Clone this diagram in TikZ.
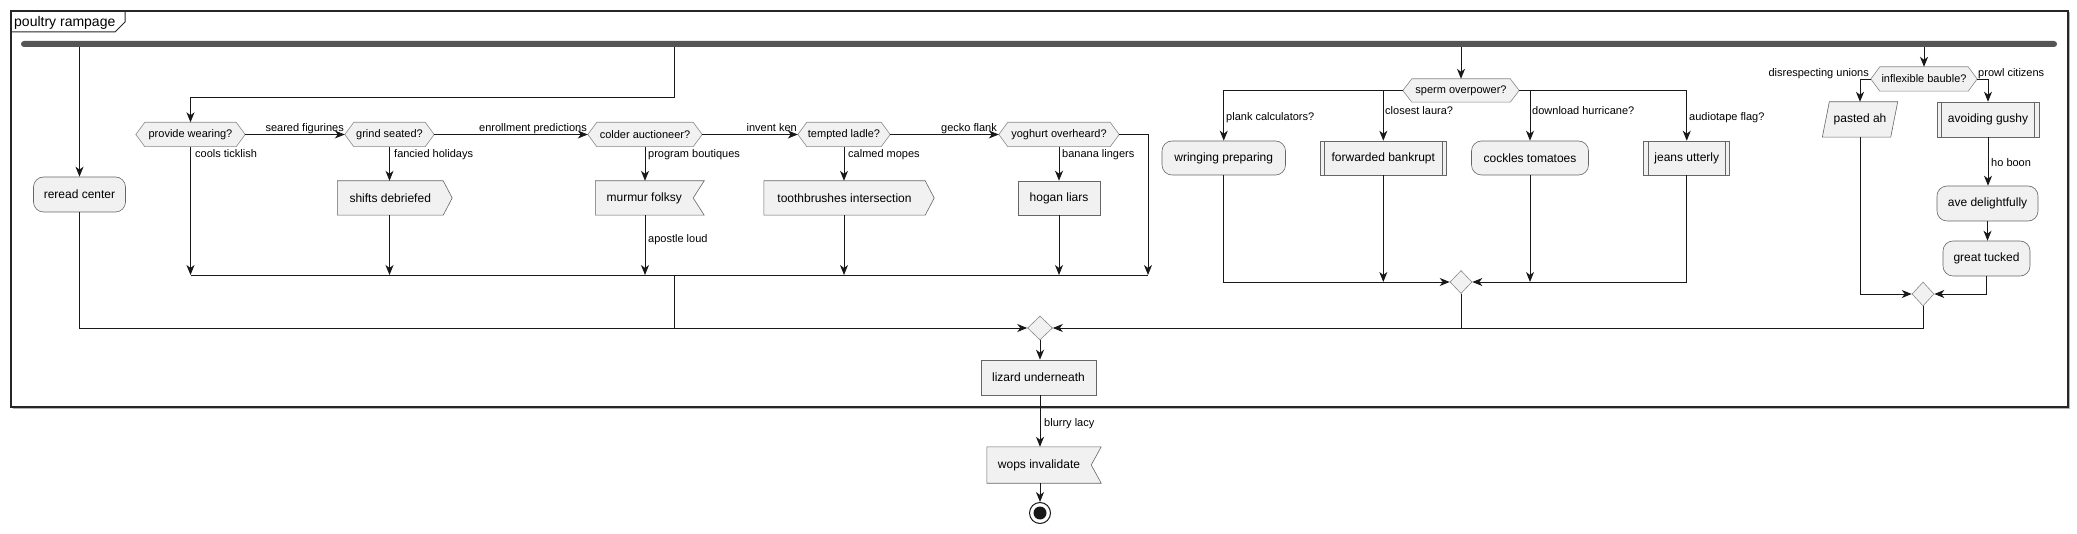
\documentclass[tikz,border=0pt]{standalone}
\usepackage{fontspec}
\setmainfont{Liberation Sans}
\usetikzlibrary{arrows.meta,shapes.geometric,backgrounds}
\definecolor{nfill}{HTML}{F1F1F1}
\definecolor{nbord}{HTML}{666666}
\definecolor{dbord}{HTML}{888888}
\definecolor{lcol}{HTML}{181818}
\definecolor{barc}{HTML}{555555}
\tikzset{
  shp/.style={draw=nbord, fill=nfill, line width=0.6pt},
  hshp/.style={draw=dbord, fill=nfill, line width=0.6pt},
  actbox/.style={shp, rounded corners=10pt, minimum height=35pt, inner sep=0pt, font=\fontsize{12}{14}\selectfont},
  plainbox/.style={shp, minimum height=35pt, inner sep=0pt, font=\fontsize{12}{14}\selectfont},
  txtbox/.style={minimum height=35pt, inner sep=0pt, font=\fontsize{12}{14}\selectfont},
  hexbox/.style={minimum height=24pt, inner sep=0pt, font=\fontsize{11}{13}\selectfont},
  lbl/.style={inner sep=0pt, font=\fontsize{11}{13}\selectfont, text=black},
  mrg/.style={diamond, draw=dbord, fill=nfill, line width=0.6pt, inner sep=0pt, minimum width=24pt, minimum height=24pt},
  conn/.style={draw=lcol, line width=0.9pt},
  arr/.style={conn, -{Stealth[length=10pt,width=8pt,inset=3pt]}},
}
\newcommand{\hexout}[1]{\begin{pgfonlayer}{background}\path[hshp] (#1.west) -- ([xshift=9pt]#1.north west) -- ([xshift=-9pt]#1.north east) -- (#1.east) -- ([xshift=-9pt]#1.south east) -- ([xshift=9pt]#1.south west) -- cycle;\end{pgfonlayer}}
\newcommand{\sendout}[2]{\begin{pgfonlayer}{background}\path[shp] (#1.north west) -- (#1.north east) -- ([xshift=#2]#1.east) -- (#1.south east) -- (#1.south west) -- cycle;\end{pgfonlayer}}
\newcommand{\recvout}[2]{\begin{pgfonlayer}{background}\path[shp] (#1.north west) -- ([xshift=#2]#1.north east) -- (#1.east) -- ([xshift=#2]#1.south east) -- (#1.south west) -- cycle;\end{pgfonlayer}}
\newcommand{\subbars}[1]{\draw[nbord, line width=0.6pt] ([xshift=5pt]#1.north west) -- ([xshift=5pt]#1.south west) ([xshift=-5pt]#1.north east) -- ([xshift=-5pt]#1.south east);}
\begin{document}
\begin{tikzpicture}[x=1pt,y=-1pt]
\useasboundingbox (0,0) rectangle (2077,534);
% frame
\draw[gray!60, line width=1pt] (12.5,408.5) -- (2069.5,408.5) -- (2069.5,12.5);
\draw[black!85, line width=1.1pt] (11,11) rectangle (2068,407);
\draw[black!85, line width=1pt] (11,32) -- (115,32) -- (125,22) -- (125,11);
\node[anchor=base west, inner sep=0pt, font=\fontsize{14}{16}\selectfont] (ftitle) at (14,27) {poultry rampage};
% fork bar
\node[fill=barc, rounded corners=3pt, minimum width=2036pt, minimum height=6pt, inner sep=0pt] (fork) at (1039,44) {};

% branch 1
\node[actbox, minimum width=92pt] (reread) at (79.5,194.5) {reread center};
\draw[arr] (reread |- fork.south) -- (reread.north);

% branch 2
\node[hexbox, minimum width=109pt] (provide) at (190.5,134.5) {provide wearing?}; \hexout{provide}
\node[hexbox, minimum width=89pt] (grind) at (389.5,134.5) {grind seated?}; \hexout{grind}
\node[hexbox, minimum width=114pt] (colder) at (645,134.5) {colder auctioneer?}; \hexout{colder}
\node[hexbox, minimum width=92pt] (tempted) at (844,134.5) {tempted ladle?}; \hexout{tempted}
\node[hexbox, minimum width=120pt] (yoghurt) at (1059,134.5) {yoghurt overheard?}; \hexout{yoghurt}
\coordinate (b2a) at (674,97);
\draw[arr] (fork.south -| b2a) -- (b2a) -- (b2a -| provide) -- (provide.north);
\draw[arr] (provide.east) -- (grind.west);
\draw[arr] (grind.east) -- (colder.west);
\draw[arr] (colder.east) -- (tempted.west);
\draw[arr] (tempted.east) -- (yoghurt.west);
\node[lbl, anchor=base east] (lsf) at (344,132) {seared figurines};
\node[lbl, anchor=base east] (lep) at (587,132) {enrollment predictions};
\node[lbl, anchor=base east] (lik) at (797,132) {invent ken};
\node[lbl, anchor=base east] (lgf) at (997,132) {gecko flank};

\node[txtbox, minimum width=105.5pt, minimum height=34pt] (shifts) at (390.25,198) {shifts debriefed}; \sendout{shifts}{9pt}
\node[txtbox, minimum width=97.5pt, minimum height=34pt] (murmur) at (644.25,198) {murmur folksy}; \recvout{murmur}{11pt}
\node[txtbox, minimum width=161pt, minimum height=34pt] (tooth) at (844.5,198) {toothbrushes intersection}; \sendout{tooth}{9pt}
\node[plainbox, minimum width=82pt, minimum height=34pt] (hogan) at (1059,198) {hogan liars};

\coordinate (mA) at (0,275);
\coordinate (yr) at (1148,134.5);
\draw[arr] (provide.south) -- (provide.south |- mA);
\draw[arr] (grind.south) -- (grind.south |- shifts.north);
\draw[arr] (grind.south |- shifts.south) -- (grind.south |- mA);
\draw[arr] (colder.south) -- (colder.south |- murmur.north);
\draw[arr] (colder.south |- murmur.south) -- (colder.south |- mA);
\draw[arr] (tempted.south) -- (tempted.south |- tooth.north);
\draw[arr] (tempted.south |- tooth.south) -- (tempted.south |- mA);
\draw[arr] (yoghurt.south) -- (yoghurt.south |- hogan.north);
\draw[arr] (hogan.south) -- (hogan.south |- mA);
\draw[arr] (yoghurt.east) -- (yr) -- (yr |- mA);
\draw[conn] (provide.south |- mA) -- (yr |- mA);
\node[lbl, anchor=base west] (lct) at (195,158) {cools ticklish};
\node[lbl, anchor=base west] (lfh) at (394,158) {fancied holidays};
\node[lbl, anchor=base west] (lpb) at (648,158) {program boutiques};
\node[lbl, anchor=base west] (lcm) at (848,158) {calmed mopes};
\node[lbl, anchor=base west] (lbl1) at (1062,158) {banana lingers};
\node[lbl, anchor=base west] (lal) at (648,243) {apostle loud};

% main merge
\node[mrg, minimum width=25pt] (mm) at (1040,328) {};
\coordinate (b2x) at (674,275);
\draw[conn] (b2x) -- (b2x |- mm.west);
\draw[arr] (reread.south) -- (reread.south |- mm.west) -- (mm.west);

% branch 3
\node[hexbox, minimum width=116pt, minimum height=23pt] (sperm) at (1461,90.5) {sperm overpower?}; \hexout{sperm}
\draw[arr] (fork.south -| sperm) -- (sperm.north);
\node[actbox, minimum width=123.5pt, minimum height=34pt] (wring) at (1223.75,158) {wringing preparing};
\node[plainbox, minimum width=126.6pt, minimum height=34pt] (fwd) at (1383.3,158) {forwarded bankrupt}; \subbars{fwd}
\node[actbox, minimum width=117pt, minimum height=34pt] (cockles) at (1530,158) {cockles tomatoes};
\node[plainbox, minimum width=86pt, minimum height=34pt] (jeans) at (1686.75,158) {jeans utterly}; \subbars{jeans}
\draw[arr] (sperm.west) -- (sperm.west -| wring) -- (wring.north);
\draw[arr] (sperm.west -| fwd) -- (fwd.north);
\draw[arr] (sperm.east) -- (sperm.east -| jeans) -- (jeans.north);
\draw[arr] (sperm.east -| cockles) -- (cockles.north);
\node[lbl, anchor=base west] (lpc) at (1226,121) {plank calculators?};
\node[lbl, anchor=base west] (lcl) at (1385,115) {closest laura?};
\node[lbl, anchor=base west] (ldh) at (1532,115) {download hurricane?};
\node[lbl, anchor=base west] (laf) at (1689,121) {audiotape flag?};
\node[mrg, minimum width=22pt, minimum height=23pt] (sm) at (1461,282) {};
\draw[arr] (wring.south) -- (wring.south |- sm.west) -- (sm.west);
\draw[arr] (fwd.south) -- (fwd.south |- sm.west);
\draw[arr] (cockles.south) -- (cockles.south |- sm.east);
\draw[arr] (jeans.south) -- (jeans.south |- sm.east) -- (sm.east);
\draw[conn] (sm.south) -- (sm.south |- mm.east);

% branch 4
\node[hexbox, minimum width=106pt] (inflex) at (1924,79) {inflexible bauble?}; \hexout{inflex}
\draw[arr] (fork.south -| inflex) -- (inflex.north);
\node[txtbox, minimum width=75pt] (pasted) at (1860,119.5) {pasted ah};
\begin{pgfonlayer}{background}\path[shp] ([xshift=7pt]pasted.north west) -- (pasted.north east) -- ([xshift=-7pt]pasted.south east) -- (pasted.south west) -- cycle;\end{pgfonlayer}
\node[plainbox, minimum width=102pt] (avoid) at (1988,119.5) {avoiding gushy}; \subbars{avoid}
\node[actbox, minimum width=101pt] (ave) at (1987.5,203.5) {ave delightfully};
\node[actbox, minimum width=87pt] (great) at (1986.5,258.5) {great tucked};
\draw[arr] (inflex.west) -- (inflex.west -| pasted) -- (pasted.north);
\draw[arr] (inflex.east) -- (inflex.east -| avoid) -- (avoid.north);
\draw[arr] (avoid.south) -- (avoid.south |- ave.north);
\draw[arr] (ave.south) -- (ave.south |- great.north);
\node[lbl, anchor=base east] (ldu) at (1869,77) {disrespecting unions};
\node[lbl, anchor=base west] (lpci) at (1978,77) {prowl citizens};
\node[lbl, anchor=base west] (lhb) at (1991,167) {ho boon};
\node[mrg, minimum width=22pt, minimum height=24pt] (rm) at (1923,294) {};
\draw[arr] (pasted.south) -- (pasted.south |- rm.west) -- (rm.west);
\draw[arr] (great.south) -- (great.south |- rm.east) -- (rm.east);
\draw[arr] (rm.south) -- (rm.south |- mm.east) -- (mm.east);

% tail
\node[plainbox, minimum width=115pt] (lizard) at (1038.5,377.5) {lizard underneath};
\draw[arr] (mm.south) -- (mm.south |- lizard.north);
\node[txtbox, minimum width=104pt, minimum height=36pt] (wops) at (1039,465) {wops invalidate}; \recvout{wops}{10pt}
\draw[arr] (lizard.south -| mm) -- (mm |- wops.north);
\node[lbl, anchor=base west] (lblc) at (1044,426) {blurry lacy};
\node[circle, draw=lcol, fill=white, line width=1pt, minimum size=21pt, inner sep=0pt] (endn) at (1040,513) {};
\fill[lcol] (endn.center) circle (6.5pt);
\draw[arr] (wops.south -| mm) -- (endn.north);
\end{tikzpicture}
\end{document}
